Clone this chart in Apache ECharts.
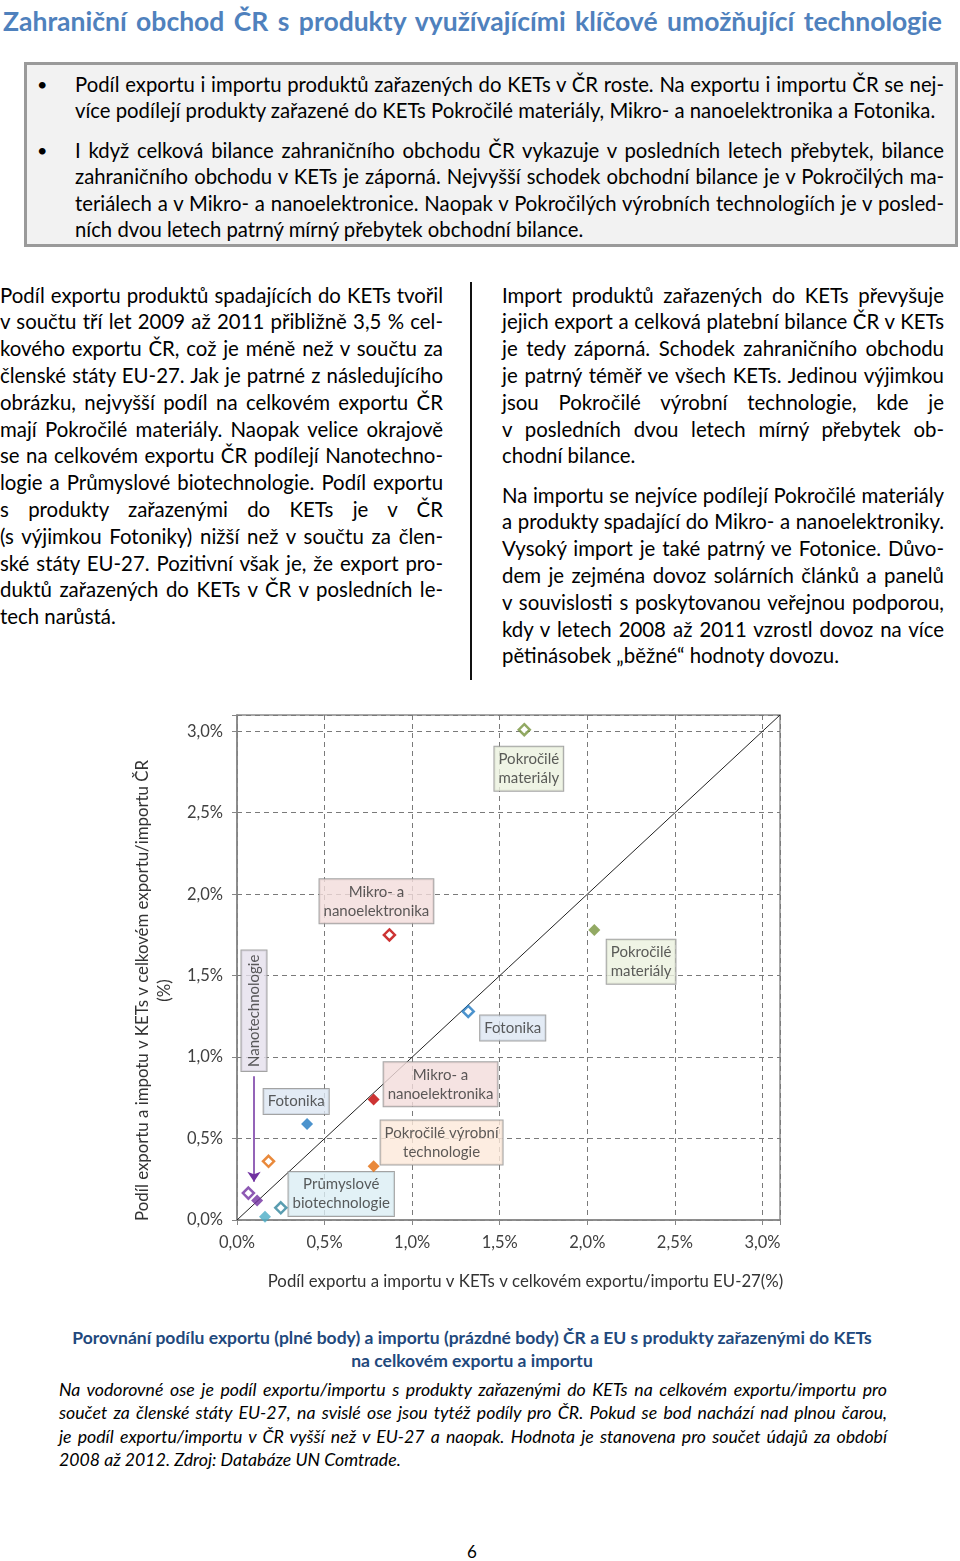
<!DOCTYPE html>
<html lang="cs">
<head>
<meta charset="utf-8">
<title>Zahraniční obchod ČR s produkty KETs</title>
<script src="https://cdn.jsdelivr.net/npm/echarts@6/dist/echarts.min.js"></script>
<style>
  html, body { margin: 0; padding: 0; background: #fff; }
  body { width: 960px; height: 1561px; position: relative; overflow: hidden; font-family: Lato, 'Noto Sans', sans-serif; color: #000; }
  .abs { position: absolute; }
  .title { left: 3px; top: 4px; width: 939px; font-size: 26.5px; font-weight: bold; color: #4F81BD; line-height: 34px; white-space: nowrap; text-align: justify; text-align-last: justify; }
  .box { left: 24px; top: 62px; width: 928px; height: 179px; background: #F2F2F2; border: 3px solid #9a9a9a; }
  .ln { display: block; white-space: nowrap; text-align: justify; text-align-last: justify; }
  .ln.end { text-align-last: left; }
  .bul { font-size: 18px; line-height: 26.5px; }
  .txt { font-size: 20.3px; line-height: 26.5px; }
  .col { font-size: 20.4px; line-height: 26.8px; }
  .divider { left: 470px; top: 282px; width: 2px; height: 398px; background: #111; }
  .cap { left: 0; top: 1326px; width: 944px; text-align: center; font-size: 17.5px; font-weight: bold; color: #1F497D; line-height: 23px; }
  .note { left: 59px; top: 1378px; width: 828px; font-size: 17.7px; font-style: italic; line-height: 23.3px; }
  .pg { left: 462px; top: 1541px; width: 20px; text-align: center; font-size: 17px; }
  #chart { left: 0; top: 700px; width: 960px; height: 600px; }
</style>
</head>
<body>
<div class="abs title">Zahraniční obchod ČR s produkty využívajícími klíčové umožňující technologie</div>

<div class="abs box"></div>
<div class="abs bul" style="left:37px; top:70.7px;">•</div>
<div class="abs bul" style="left:37px; top:136.7px;">•</div>
<div class="abs txt" style="left:75px; top:70.7px; width:869px;">
  <span class="ln">Podíl exportu i importu produktů zařazených do KETs v ČR roste. Na exportu i importu ČR se nej-</span>
  <span class="ln end">více podílejí produkty zařazené do KETs Pokročilé materiály, Mikro- a nanoelektronika a Fotonika.</span>
</div>
<div class="abs txt" style="left:75px; top:136.7px; width:869px;">
  <span class="ln">I když celková bilance zahraničního obchodu ČR vykazuje v posledních letech přebytek, bilance</span>
  <span class="ln">zahraničního obchodu v KETs je záporná. Nejvyšší schodek obchodní bilance je v Pokročilých ma-</span>
  <span class="ln">teriálech a v Mikro- a nanoelektronice. Naopak v Pokročilých výrobních technologiích je v posled-</span>
  <span class="ln end">ních dvou letech patrný mírný přebytek obchodní bilance.</span>
</div>

<div class="abs col" style="left:0; top:281.6px; width:443px;">
  <span class="ln">Podíl exportu produktů spadajících do KETs tvořil</span>
  <span class="ln">v součtu tří let 2009 až 2011 přibližně 3,5 % cel-</span>
  <span class="ln">kového exportu ČR, což je méně než v součtu za</span>
  <span class="ln">členské státy EU-27. Jak je patrné z následujícího</span>
  <span class="ln">obrázku, nejvyšší podíl na celkovém exportu ČR</span>
  <span class="ln">mají Pokročilé materiály. Naopak velice okrajově</span>
  <span class="ln">se na celkovém exportu ČR podílejí Nanotechno-</span>
  <span class="ln">logie a Průmyslové biotechnologie. Podíl exportu</span>
  <span class="ln">s produkty zařazenými do KETs je v ČR</span>
  <span class="ln">(s výjimkou Fotoniky) nižší než v součtu za člen-</span>
  <span class="ln">ské státy EU-27. Pozitivní však je, že export pro-</span>
  <span class="ln">duktů zařazených do KETs v ČR v posledních le-</span>
  <span class="ln end">tech narůstá.</span>
</div>
<div class="abs divider"></div>
<div class="abs col" style="left:502px; top:281.6px; width:442px;">
  <span class="ln">Import produktů zařazených do KETs převyšuje</span>
  <span class="ln">jejich export a celková platební bilance ČR v KETs</span>
  <span class="ln">je tedy záporná. Schodek zahraničního obchodu</span>
  <span class="ln">je patrný téměř ve všech KETs. Jedinou výjimkou</span>
  <span class="ln">jsou Pokročilé výrobní technologie, kde je</span>
  <span class="ln">v posledních dvou letech mírný přebytek ob-</span>
  <span class="ln end">chodní bilance.</span>
</div>
<div class="abs col" style="left:502px; top:481.6px; width:442px;">
  <span class="ln">Na importu se nejvíce podílejí Pokročilé materiály</span>
  <span class="ln">a produkty spadající do Mikro- a nanoelektroniky.</span>
  <span class="ln">Vysoký import je také patrný ve  Fotonice. Důvo-</span>
  <span class="ln">dem je zejména dovoz solárních článků a panelů</span>
  <span class="ln">v souvislosti s poskytovanou veřejnou podporou,</span>
  <span class="ln">kdy v letech 2008 až 2011 vzrostl dovoz na více</span>
  <span class="ln end">pětinásobek „běžné“ hodnoty dovozu.</span>
</div>

<div id="chart" class="abs"></div>

<div class="abs cap">Porovnání podílu exportu (plné body) a importu (prázdné body) ČR a EU s produkty zařazenými do KETs<br>na celkovém exportu a importu</div>
<div class="abs note">
  <span class="ln">Na vodorovné ose je podíl exportu/importu s produkty zařazenými do KETs na celkovém exportu/importu pro</span>
  <span class="ln">součet za členské státy EU-27, na svislé ose jsou tytéž podíly pro ČR. Pokud se bod nachází nad plnou čarou,</span>
  <span class="ln">je podíl exportu/importu v ČR vyšší než v EU-27 a naopak. Hodnota je stanovena pro součet údajů za období</span>
  <span class="ln end">2008 až 2012. Zdroj: Databáze UN Comtrade.</span>
</div>
<div class="abs pg">6</div>

<script>
  // KETs (klíčové umožňující technologie), podíly v % (2008-2012)
  var kets = ['Pokročilé materiály', 'Mikro- a nanoelektronika', 'Fotonika',
    'Pokročilé výrobní technologie', 'Nanotechnologie', 'Průmyslové biotechnologie']
  var exportEU = [2.04, 0.78, 0.40, 0.78, 0.115, 0.16]
  var exportCZ = [1.78, 0.74, 0.59, 0.33, 0.12, 0.02]
  var importEU = [1.64, 0.87, 1.32, 0.18, 0.065, 0.25]
  var importCZ = [3.01, 1.75, 1.28, 0.36, 0.165, 0.075]
  var axisTicks = [0, 0.5, 1.0, 1.5, 2.0, 2.5, 3.0]

  var exportColors = ['#77933C', '#C00000', '#1F78C1', '#E46C0A', '#7030A0', '#4BACC6']
  var importColors = ['#77933C', '#C00000', '#1F78C1', '#E46C0A', '#7030A0', '#31859C']

  var font = 'Lato, "Noto Sans", sans-serif'

  // popisky v grafu (souřadnice v jednotkách os)
  var notes = [
    {text: 'Pokročilé\nmateriály', at: [1.666, 2.77], bg: '#EBF1DE'},
    {text: 'Pokročilé\nmateriály', at: [2.307, 1.586], bg: '#EBF1DE'},
    {text: 'Mikro- a\nnanoelektronika', at: [0.796, 1.957], bg: '#F2DCDB'},
    {text: 'Mikro- a\nnanoelektronika', at: [1.162, 0.833], bg: '#F2DCDB'},
    {text: 'Fotonika', at: [1.574, 1.179], bg: '#DCE6F2'},
    {text: 'Fotonika', at: [0.338, 0.728], bg: '#DCE6F2'},
    {text: 'Pokročilé výrobní\ntechnologie', at: [1.168, 0.475], bg: '#FDE9D9'},
    {text: 'Průmyslové\nbiotechnologie', at: [0.595, 0.16], bg: '#DBEEF4'},
    {text: 'Nanotechnologie', at: [0.097, 1.284], bg: '#E5E0EC', rotate: 90}
  ]

  function pct (v) {
    var hit = axisTicks.some(function (t) { return Math.abs(t - v) < 1e-6 })
    return hit ? v.toFixed(1).replace('.', ',') + '%' : ''
  }

  var exportData = []
  var importData = []
  for (var i = 0; i < kets.length; i++) {
    exportData.push({name: kets[i], value: [exportEU[i], exportCZ[i]], itemStyle: {color: exportColors[i]}})
    importData.push({name: kets[i], value: [importEU[i], importCZ[i]],
      itemStyle: {color: '#fff', borderColor: importColors[i], borderWidth: 2.5}})
  }

  var noteData = notes.map(function (n) {
    return {
      name: n.text,
      value: n.at,
      label: {backgroundColor: n.bg, rotate: n.rotate || 0}
    }
  })

  var myChart = echarts.init(document.getElementById('chart'), null, {renderer: 'canvas'})
  var axisCommon = {
    type: 'value',
    min: 0,
    max: 3.1,
    interval: 0.5,
    nameLocation: 'middle',
    axisLine: {show: true, lineStyle: {color: '#868686', width: 1.5}},
    axisTick: {show: true, length: 5, lineStyle: {color: '#868686'}},
    axisLabel: {formatter: pct, fontFamily: font, fontSize: 16.5, color: '#404040', margin: 14},
    splitLine: {show: true, lineStyle: {type: [5, 4], color: '#7a7a7a', width: 1}}
  }

  var option = {
    animation: false,
    grid: {left: 237, top: 15, width: 543, height: 505, show: true, borderColor: '#8c8c8c', borderWidth: 1.5},
    xAxis: Object.assign({}, axisCommon, {
      name: 'Podíl exportu a importu v KETs v celkovém exportu/importu EU-27(%)',
      nameGap: 53,
      nameTextStyle: {fontFamily: font, fontSize: 16.8, color: '#333', padding: [0, 0, 0, 34]}
    }),
    yAxis: Object.assign({}, axisCommon, {
      name: 'Podíl exportu a impotu v KETs v celkovém exportu/importu ČR\n(%)',
      nameGap: 55,
      nameRotate: 90,
      nameTextStyle: {fontFamily: font, fontSize: 16.8, color: '#333', lineHeight: 22, padding: [0, 46, 0, 0]}
    }),
    series: [
      {
        // rovnost podílu ČR a EU-27
        type: 'line',
        data: [[0, 0], [3.1, 3.1]],
        symbol: 'none',
        lineStyle: {color: '#222', width: 1},
        z: 2
      },
      {
        name: 'Export',
        type: 'scatter',
        symbol: 'diamond',
        symbolSize: 12,
        data: exportData,
        z: 4
      },
      {
        name: 'Import',
        type: 'scatter',
        symbol: 'diamond',
        symbolSize: 11,
        data: importData,
        z: 4
      },
      {
        name: 'popisky',
        type: 'scatter',
        symbolSize: 0,
        silent: true,
        z: 3,
        label: {
          show: true,
          position: 'inside',
          formatter: '{b}',
          fontFamily: font,
          fontSize: 15,
          lineHeight: 19,
          color: '#333',
          borderColor: '#8c8c8c',
          borderWidth: 1,
          padding: [3, 4]
        },
        data: noteData,
        markLine: {
          silent: true,
          symbol: ['none', 'arrow'],
          symbolSize: 10,
          lineStyle: {color: '#7030A0', width: 1.5, type: 'solid'},
          label: {show: false},
          data: [[{coord: [0.097, 0.883]}, {coord: [0.097, 0.235]}]]
        }
      }
    ]
  }
  myChart.setOption(option, true)
</script>
</body>
</html>
